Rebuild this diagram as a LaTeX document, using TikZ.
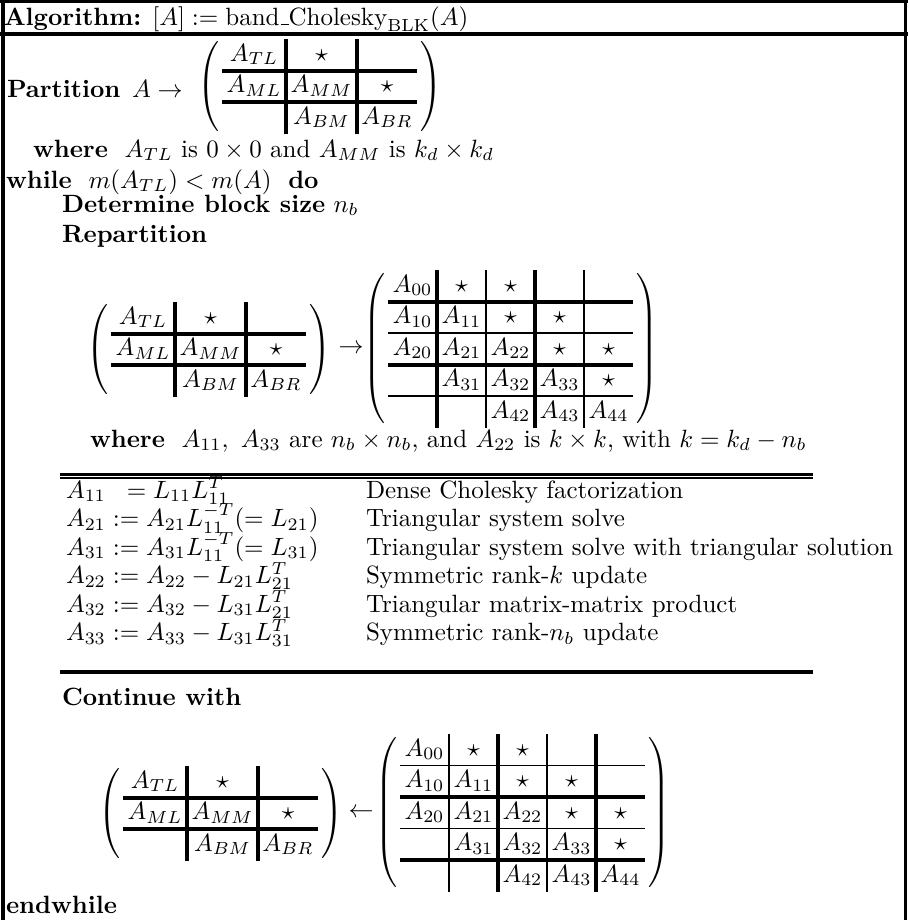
\documentclass[tikz,border=0pt]{standalone}
\usetikzlibrary{matrix}

\begin{document}
\begin{tikzpicture}[x=0.4pt, y=-0.4pt,
    txt/.style={anchor=base west, inner sep=0pt, outer sep=0pt},
    frame/.style={line width=1.2pt},
    thickrule/.style={line width=1.6pt},
    thinrule/.style={line width=0.6pt},
    blk/.style={matrix of math nodes, nodes in empty cells,
      ampersand replacement=\&, inner sep=0pt, outer sep=0pt,
      column sep=0pt, row sep=0pt, anchor=north west,
      left delimiter=(, right delimiter=),
      nodes={inner sep=0pt, outer sep=0pt, minimum height=12.6pt,
        text height=7pt, text depth=2pt, anchor=center}},
    threeblk/.style={blk,
      column 1/.style={minimum width=25.6pt},
      column 2/.style={minimum width=28.4pt},
      column 3/.style={minimum width=24pt}},
    fiveblk/.style={blk, nodes={minimum width=19.6pt}}]
   \useasboundingbox (0,0) rectangle (908,920);
   % frame
   \draw[frame] (0,1.3) -- (908,1.3);
   \draw[line width=1.5pt] (0,34.2) -- (908,34.2);
   \draw[frame] (3,0) -- (3,920);
   \draw[line width=1.4pt] (905.5,0) -- (905.5,920);
   \node[txt] (title) at (4,25)
     {\textbf{Algorithm:} $[A] := \mbox{band\kern.06em\vbox{\hrule width.3em}Cholesky}_{\mathrm{BLK}}(A)$};
   % partition
   \node[txt] (part) at (7,97) {\textbf{Partition}};
   \node[txt] (partA) at (132,97) {$A \rightarrow$};
   \matrix (pm) [threeblk] at (222,39) {
     A_{TL} \& \star \& \\
     A_{ML} \& A_{MM} \& \star \\
     \& A_{BM} \& A_{BR} \\
   };
   \node[txt] (where1) at (33,157)
     {\textbf{where}\ \ $A_{TL}$ is $0 \times 0$ and $A_{MM}$ is $k_d \times k_d$};
   \node[txt] (while) at (6,188)
     {\textbf{while}\ \ $m(A_{TL}) < m(A)$\ \ \textbf{do}};
   \node[txt] (detnb) at (62,212) {\textbf{Determine block size} $n_b$};
   \node[txt] (repart) at (62,242) {\textbf{Repartition}};
   % repartition
   \matrix (rl) [threeblk] at (111,302) {
     A_{TL} \& \star \& \\
     A_{ML} \& A_{MM} \& \star \\
     \& A_{BM} \& A_{BR} \\
   };
   \node (rarr) at (351,349) {$\rightarrow$};
   \matrix (rr) [fiveblk] at (388,270) {
     A_{00} \& \star \& \star \& \& \\
     A_{10} \& A_{11} \& \star \& \star \& \\
     A_{20} \& A_{21} \& A_{22} \& \star \& \star \\
     \& A_{31} \& A_{32} \& A_{33} \& \star \\
     \& \& A_{42} \& A_{43} \& A_{44} \\
   };
   \node[txt] (where2) at (90,447)
     {\textbf{where}\ \ $A_{11},\ A_{33}$ are $n_b \times n_b$, and $A_{22}$ is $k \times k$, with $k = k_d - n_b$};
   % updates
   \draw[line width=1pt] (60,474.5) -- (813,474.5);
   \draw[line width=0.8pt] (60,478) -- (813,478);
   \node[txt] (u1) at (66,498) {$A_{11} \mathrel{\phantom{:}=} L_{11} L_{11}^T$};
   \node[txt] (u2) at (66,526.5) {$A_{21} := A_{21} L_{11}^{-T} (= L_{21})$};
   \node[txt] (u3) at (66,555) {$A_{31} := A_{31} L_{11}^{-T} (= L_{31})$};
   \node[txt] (u4) at (66,583.5) {$A_{22} := A_{22} - L_{21} L_{21}^T$};
   \node[txt] (u5) at (66,612) {$A_{32} := A_{32} - L_{31} L_{21}^T$};
   \node[txt] (u6) at (66,640.5) {$A_{33} := A_{33} - L_{31} L_{31}^T$};
   \node[txt] (d1) at (366,498) {Dense Cholesky factorization};
   \node[txt] (d2) at (366,526.5) {Triangular system solve};
   \node[txt] (d3) at (366,555) {Triangular system solve with triangular solution};
   \node[txt] (d4) at (366,583.5) {Symmetric rank-$k$ update};
   \node[txt] (d5) at (366,612) {Triangular matrix-matrix product};
   \node[txt] (d6) at (366,640.5) {Symmetric rank-$n_b$ update};
   \draw[thickrule] (60,672) -- (813,672);
   % continue with
   \node[txt] (contw) at (62,705) {\textbf{Continue with}};
   \matrix (cl) [threeblk] at (123,766) {
     A_{TL} \& \star \& \\
     A_{ML} \& A_{MM} \& \star \\
     \& A_{BM} \& A_{BR} \\
   };
   \node (larr) at (361,813) {$\leftarrow$};
   \matrix (cr) [fiveblk] at (400,734) {
     A_{00} \& \star \& \star \& \& \\
     A_{10} \& A_{11} \& \star \& \star \& \\
     A_{20} \& A_{21} \& A_{22} \& \star \& \star \\
     \& A_{31} \& A_{32} \& A_{33} \& \star \\
     \& \& A_{42} \& A_{43} \& A_{44} \\
   };
   \node[txt] (endw) at (6,913) {\textbf{endwhile}};
   % partition lines
   \foreach \m in {pm,rl,cl} {
     \foreach \i in {1,2} {
       \draw[thickrule] (\m-1-\i.north east) -- (\m-3-\i.south east);
       \draw[thickrule] (\m-\i-1.south west) -- (\m-\i-3.south east);
     }
   }
   \foreach \i/\w in {1/thickrule,2/thinrule,3/thickrule,4/thinrule} {
     \draw[\w] (rr-1-\i.north east) -- (rr-5-\i.south east);
     \draw[\w] (rr-\i-1.south west) -- (rr-\i-5.south east);
   }
   \foreach \i/\w in {1/thinrule,2/thickrule,3/thinrule,4/thickrule} {
     \draw[\w] (cr-1-\i.north east) -- (cr-5-\i.south east);
     \draw[\w] (cr-\i-1.south west) -- (cr-\i-5.south east);
   }
 \end{tikzpicture}
\end{document}
